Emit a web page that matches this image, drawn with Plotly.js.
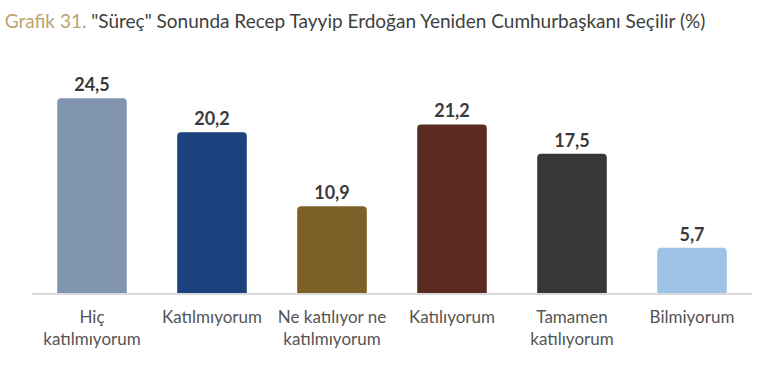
<!DOCTYPE html>
<html><head><meta charset="utf-8">
<script src="https://cdn.plot.ly/plotly-3.0.1.min.js"></script>
<style>html,body{margin:0;padding:0;background:#fff;}#c{width:784px;height:382px;}</style>
</head><body><div id="c"></div>
<script>
var categories = ["Hiç<br>katılmıyorum", "Katılmıyorum", "Ne katılıyor ne<br>katılmıyorum", "Katılıyorum", "Tamamen<br>katılıyorum", "Bilmiyorum"];
var values = [24.5, 20.2, 10.9, 21.2, 17.5, 5.7];
var colors = ["#8194b0", "#1b427c", "#7b6128", "#5a2a20", "#383637", "#9dc3e6"];

var trace = {
  type: "bar",
  x: categories,
  y: values,
  marker: {color: colors, cornerradius: 4},
  width: 0.58,
  texttemplate: "%{y:.1f}",
  textposition: "outside",
  cliponaxis: false,
  textfont: {family: "Lato, 'Open Sans', sans-serif", size: 18, color: "#3a3a3a", weight: "bold"},
  hoverinfo: "none"
};
var layout = {
  width: 784, height: 382,
  separators: ",.",
  margin: {l: 32, r: 32, t: 60, b: 89},
  paper_bgcolor: "#fff", plot_bgcolor: "#fff",
  showlegend: false,
  title: {
    text: "<span style='color:#bba36c'>Grafik 31.</span> \"Süreç\" Sonunda Recep Tayyip Erdoğan Yeniden Cumhurbaşkanı Seçilir (%)",
    x: 0.006, xanchor: "left", y: 0.945, yanchor: "middle",
    font: {family: "Lato, 'Open Sans', sans-serif", size: 19, color: "#3e3e3e"}
  },
  xaxis: {
    showline: true, linecolor: "#d9d9d9", linewidth: 1.5,
    ticks: "", ticklabelstandoff: 8,
    tickfont: {family: "Lato, 'Open Sans', sans-serif", size: 17, color: "#555555"},
    fixedrange: true
  },
  yaxis: {visible: false, range: [0, 29.3], fixedrange: true}
};
Plotly.newPlot("c", [trace], layout, {displayModeBar: false, staticPlot: true});
</script></body></html>
